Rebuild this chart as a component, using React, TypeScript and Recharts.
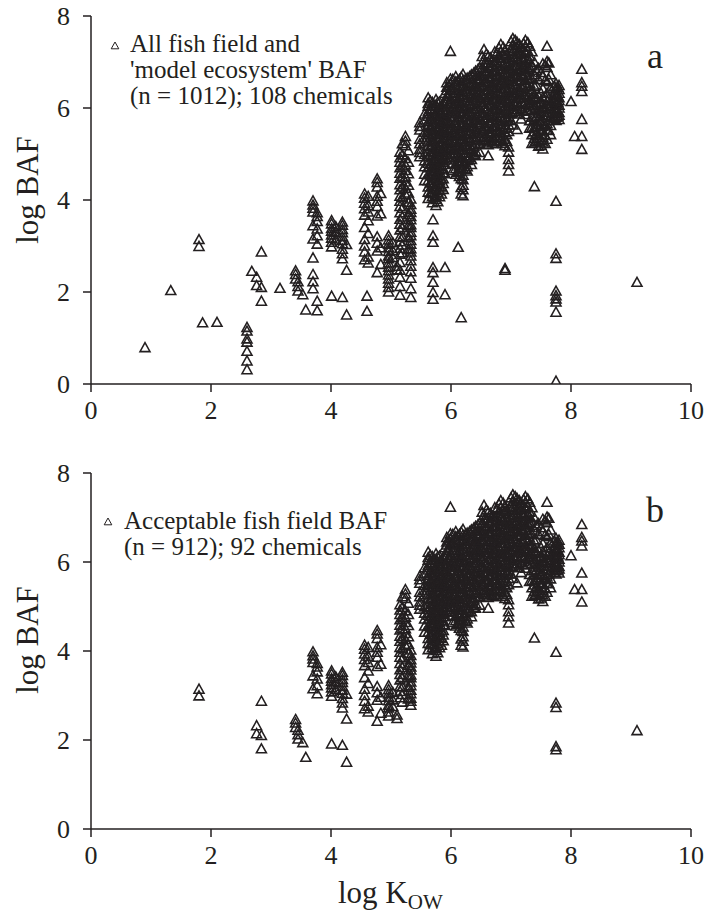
import React from 'react';
import { ScatterChart, Scatter, XAxis, YAxis } from 'recharts';

type Col = [number, number[]];

const INK = '#231f20';
const FONT = '"Liberation Serif", "Times New Roman", serif';

const xTicks = [0, 2, 4, 6, 8, 10];
const yTicks = [0, 2, 4, 6, 8];

const legendA = ['All fish field and', "'model ecosystem' BAF", '(n = 1012); 108 chemicals'];
const legendB = ['Acceptable fish field BAF', '(n = 912); 92 chemicals'];

// points present in both panels (acceptable fish field BAF)
const lowKowShared: Col[] = [
  [1.8, [3.13, 2.98]],
  [2.76, [2.31, 2.13]],
  [2.84, [2.86, 2.09, 1.79]],
  [3.41, [2.45, 2.37, 2.27]],
  [3.45, [2.21, 2.11, 2.01]],
  [3.53, [1.93]],
  [3.58, [1.6]],
];

const midKowShared: Col[] = [
  [3.7, [3.97, 3.88, 3.81, 3.73, 3.43, 3.14]],
  [3.77, [3.71, 3.63, 3.52, 3.36, 3.21, 3.03]],
  [4.01, [3.54, 3.47, 3.37, 3.31, 3.23, 3.16, 3.07, 2.97, 1.9]],
  [4.08, [3.41, 3.29, 3.12]],
  [4.19, [3.51, 3.44, 3.35, 3.28, 3.19, 3.11, 3.04, 2.92, 2.82, 2.71, 1.87]],
  [4.26, [3.02, 2.46, 1.49]],
  [4.56, [4.12, 4.03, 3.92, 3.8, 3.66, 3.39, 3.13, 2.99, 2.86, 2.69]],
  [4.62, [4.07, 3.87, 3.73, 3.54, 3.26, 2.75, 2.62]],
  [4.77, [4.45, 4.37, 4.27, 4.07, 3.96, 3.85, 3.64, 3.19, 3.05, 2.88, 2.41]],
  [4.83, [4.13, 3.69, 2.95, 2.59]],
  [4.96, [3.21, 3.12, 3.03, 2.95, 2.87, 2.77, 2.71, 2.62, 2.53]],
  [5.03, [3.06, 2.89, 2.74]],
  [5.1, [2.55, 2.47]],
  [5.15, [5.03, 4.91, 4.81, 4.69, 4.57, 4.46, 4.32, 4.21, 4.07, 3.96, 3.85, 3.71, 3.57, 3.46, 3.34, 3.19, 3.08, 2.94]],
  [5.19, [5.21, 4.97, 4.73, 4.49, 4.27, 4.04, 3.81, 3.62, 3.39, 3.18, 3.01, 2.84]],
  [5.24, [5.37, 5.27, 5.17, 4.89, 4.75, 4.63, 4.49, 4.38, 4.24, 4.11]],
  [5.29, [5.06, 4.81, 4.56, 4.31, 4.14, 3.94, 3.67, 3.43, 3.17, 2.91]],
  [5.33, [4.01, 3.89, 3.79, 3.72, 3.63, 3.56, 3.45, 3.39, 3.29, 3.21, 3.11, 3.03, 2.93, 2.86, 2.77]],
  [5.48, [5.67, 5.59, 5.51, 5.31, 5.21, 5.09, 5.02, 4.93]],
  [5.56, [5.86, 5.73, 5.46, 5.35, 5.25, 4.98, 4.84, 4.71, 4.55, 4.41]],
];

const coreShared: Col[] = [
  [5.62, [6.21, 6.09, 6.03, 5.91, 5.81, 5.69, 5.61, 5.49, 5.41, 5.27, 5.17, 5.04, 4.93, 4.79, 4.69, 4.54, 4.41, 4.27, 4.16, 4.02]],
  [5.69, [6.11, 5.97, 5.87, 5.73, 5.63, 5.5, 5.41, 5.27, 5.18, 5.05, 4.96, 4.83, 4.73, 4.6, 4.51, 4.37, 4.28, 4.15, 4.06, 3.93]],
  [5.75, [6.17, 6.05, 5.91, 5.81, 5.68, 5.58, 5.44, 5.35, 5.21, 5.12, 4.99, 4.9, 4.77, 4.67, 4.54, 4.45, 4.32, 4.22, 4.09, 4.0, 3.87]],
  [5.81, [6.12, 6.01, 5.87, 5.77, 5.63, 5.54, 5.41, 5.31, 5.18, 5.09, 4.96, 4.87, 4.73, 4.64, 4.51, 4.41, 4.28, 4.19, 4.06]],
  [5.87, [6.07, 5.96, 5.82, 5.72, 5.59, 5.49, 5.35, 5.26, 5.12, 5.03, 4.9, 4.81, 4.67, 4.58, 4.45, 4.35, 4.22]],
  [5.93, [6.54, 6.44, 6.37, 6.24, 6.14, 6.01, 5.91, 5.77, 5.67, 5.54, 5.44, 5.3, 5.21, 5.07, 4.97, 4.86]],
  [5.99, [7.22, 6.62, 6.51, 6.4, 6.31, 6.17, 6.06, 5.92, 5.81, 5.65, 5.53, 5.38, 5.26, 5.11, 4.99, 4.88]],
  [6.08, [6.67, 6.56, 6.43, 6.32, 6.19, 6.09, 5.95, 5.86, 5.72, 5.61, 5.48, 5.38, 5.24, 5.15, 5.01, 4.91, 4.77, 4.67, 4.55]],
  [6.14, [6.61, 6.47, 6.37, 6.24, 6.14, 6.0, 5.91, 5.77, 5.67, 5.54, 5.44, 5.3, 5.2, 5.07, 4.97, 4.83, 4.73, 4.61, 4.5]],
  [6.2, [6.72, 6.59, 6.45, 6.35, 6.21, 6.11, 5.97, 5.87, 5.73, 5.63, 5.49, 5.39, 5.25, 5.15, 5.01, 4.91, 4.77, 4.67, 4.53, 4.43, 4.31, 4.21, 4.08]],
  [6.27, [6.64, 6.53, 6.39, 6.29, 6.15, 6.05, 5.91, 5.81, 5.67, 5.57, 5.43, 5.33, 5.19, 5.09, 4.95, 4.85, 4.71, 4.62]],
  [6.34, [6.71, 6.55, 6.45, 6.31, 6.21, 6.07, 5.97, 5.83, 5.73, 5.59, 5.49, 5.35, 5.25, 5.11, 5.01, 4.87, 4.76]],
  [6.41, [6.79, 6.63, 6.49, 6.39, 6.25, 6.15, 6.01, 5.91, 5.77, 5.67, 5.53, 5.43, 5.29, 5.19, 5.05, 4.95]],
  [6.48, [6.86, 6.69, 6.59, 6.45, 6.35, 6.21, 6.11, 5.97, 5.87, 5.73, 5.63, 5.36, 5.21, 5.02]],
  [6.55, [7.26, 7.04, 6.93, 6.79, 6.69, 6.55, 6.45, 6.31, 6.21, 6.07, 5.97, 5.83, 5.73, 5.59, 5.49, 5.35, 5.25]],
  [6.62, [7.11, 6.97, 6.87, 6.73, 6.63, 6.49, 6.39, 6.25, 6.15, 6.01, 5.91, 5.77, 5.67, 5.53, 5.43, 5.29, 5.19, 4.95]],
  [6.69, [7.02, 6.91, 6.77, 6.67, 6.53, 6.43, 6.29, 6.19, 6.05, 5.95, 5.81, 5.71, 5.57, 5.47, 5.33, 5.23]],
  [6.76, [7.16, 7.02, 6.92, 6.78, 6.68, 6.54, 6.44, 6.3, 6.2, 6.06, 5.96, 5.82, 5.72, 5.58, 5.48, 5.34, 5.21]],
  [6.83, [7.37, 7.21, 7.07, 6.97, 6.83, 6.73, 6.59, 6.49, 6.35, 6.25, 6.11, 6.01, 5.87, 5.77, 5.63, 5.53, 5.39, 5.29]],
  [6.9, [7.25, 7.13, 6.99, 6.89, 6.75, 6.65, 6.51, 6.41, 6.27, 6.17, 6.03, 5.93, 5.79, 5.69, 5.55, 5.45, 5.31, 5.17]],
  [6.96, [7.05, 6.92, 6.82, 6.68, 6.58, 6.44, 6.34, 6.2, 6.1, 5.96, 5.86, 5.72, 5.62, 5.48, 5.14, 5.03, 4.87, 4.76, 4.62]],
  [7.03, [7.5, 7.35, 7.23, 7.09, 6.99, 6.85, 6.75, 6.61, 6.51, 6.37, 6.27, 6.13, 6.03, 5.89, 5.62]],
  [7.1, [7.42, 7.29, 7.15, 7.05, 6.91, 6.81, 6.67, 6.57, 6.43, 6.33, 6.19, 6.09, 5.95, 5.52]],
  [7.17, [7.31, 7.17, 7.07, 6.93, 6.83, 6.69, 6.59, 6.45, 6.35, 6.21, 6.11, 5.97, 5.75]],
  [7.24, [7.46, 7.33, 7.21, 7.07, 6.97, 6.83, 6.73, 6.59, 6.49, 6.35, 6.25, 6.11, 6.01, 5.85]],
  [7.31, [7.33, 7.11, 7.01, 6.87, 6.77, 6.63, 6.53, 6.39, 6.29, 6.15, 6.05, 5.71, 5.55]],
];

// second, offset set of columns filling the dense core
const coreFillShared: Col[] = [
  [5.655, [6.14, 5.96, 5.76, 5.56, 5.35, 5.15, 4.97, 4.76, 4.57, 4.36, 4.13]],
  [5.72, [6.04, 5.83, 5.67, 5.44, 5.25, 5.02, 4.87, 4.63, 4.47, 4.23, 4.04]],
  [5.78, [6.11, 5.92, 5.73, 5.51, 5.34, 5.12, 4.95, 4.71, 4.56, 4.34, 4.15, 3.95]],
  [5.84, [6.02, 5.86, 5.64, 5.46, 5.25, 5.06, 4.84, 4.67, 4.45, 4.27, 4.12]],
  [5.9, [6.31, 6.09, 5.91, 5.7, 5.51, 5.31, 5.13, 4.92, 4.76, 4.56]],
  [5.96, [6.47, 6.28, 6.07, 5.87, 5.67, 5.48, 5.26, 5.08, 4.92]],
  [6.03, [6.61, 6.39, 6.21, 5.99, 5.79, 5.57, 5.41, 5.17, 4.99, 4.79, 4.63]],
  [6.11, [6.57, 6.39, 6.16, 5.99, 5.78, 5.59, 5.38, 5.19, 4.98, 4.81, 4.59]],
  [6.17, [6.66, 6.44, 6.27, 6.05, 5.86, 5.65, 5.47, 5.25, 5.07, 4.85, 4.67, 4.45, 4.26, 4.12]],
  [6.24, [6.61, 6.4, 6.21, 6.0, 5.81, 5.6, 5.42, 5.2, 5.01, 4.8, 4.66]],
  [6.31, [6.67, 6.49, 6.27, 6.09, 5.87, 5.69, 5.47, 5.29, 5.07, 4.91]],
  [6.38, [6.75, 6.54, 6.35, 6.14, 5.96, 5.74, 5.56, 5.34, 5.16, 4.97]],
  [6.45, [6.83, 6.61, 6.43, 6.21, 6.03, 5.81, 5.63, 5.44, 5.28]],
  [6.52, [7.11, 6.87, 6.68, 6.47, 6.29, 6.07, 5.89, 5.67, 5.49, 5.31]],
  [6.59, [7.16, 6.96, 6.74, 6.57, 6.35, 6.17, 5.95, 5.77, 5.55, 5.37, 5.2]],
  [6.66, [7.08, 6.87, 6.65, 6.47, 6.25, 6.07, 5.85, 5.67, 5.45, 5.27]],
  [6.73, [7.21, 6.99, 6.81, 6.59, 6.41, 6.19, 6.01, 5.79, 5.61, 5.39, 5.26]],
  [6.8, [7.29, 7.09, 6.91, 6.69, 6.51, 6.29, 6.11, 5.89, 5.71, 5.49, 5.33]],
  [6.87, [7.31, 7.15, 6.95, 6.73, 6.55, 6.33, 6.15, 5.93, 5.75, 5.53, 5.36, 5.22]],
  [6.93, [7.15, 6.97, 6.75, 6.57, 6.35, 6.17, 5.95, 5.77, 5.55, 5.41, 5.26]],
  [7.0, [7.43, 7.23, 7.05, 6.83, 6.65, 6.43, 6.25, 6.03, 5.87, 5.72]],
  [7.07, [7.46, 7.29, 7.11, 6.89, 6.71, 6.49, 6.31, 6.09, 5.92]],
  [7.14, [7.37, 7.19, 7.01, 6.79, 6.61, 6.39, 6.21, 6.01, 5.86]],
  [7.21, [7.39, 7.25, 7.03, 6.85, 6.67, 6.45, 6.27, 6.07, 5.92]],
  [7.28, [7.41, 7.23, 7.04, 6.86, 6.64, 6.46, 6.24, 6.09, 5.94]],
];

const highKowShared: Col[] = [
  [7.35, [7.21, 6.91, 6.61, 6.35, 6.17, 5.95, 5.79, 5.57, 5.41, 5.22]],
  [7.39, [6.98, 6.71, 6.46, 6.29, 6.19, 6.05, 5.95, 5.81, 5.71, 5.57, 5.47, 5.33, 5.23, 4.28]],
  [7.42, [6.81, 6.49, 6.21, 5.99, 5.81, 5.59, 5.43, 5.26]],
  [7.46, [6.85, 6.61, 6.24, 6.11, 6.01, 5.87, 5.77, 5.63, 5.53, 5.39, 5.29, 5.16]],
  [7.5, [6.76, 6.31, 6.09, 5.91, 5.69, 5.51, 5.29, 5.18]],
  [7.53, [6.95, 6.67, 6.41, 6.21, 6.07, 5.97, 5.83, 5.73, 5.59, 5.49, 5.35, 5.25, 5.1]],
  [7.57, [6.91, 6.59, 6.23, 6.01, 5.83, 5.61, 5.39, 5.22]],
  [7.6, [7.33, 7.0, 6.87, 6.56, 6.31, 6.14, 6.03, 5.89, 5.79, 5.65, 5.51, 5.31]],
  [7.63, [6.97, 6.61, 6.19, 5.97, 5.71, 5.5]],
  [7.66, [6.71, 6.41, 6.09, 5.95, 5.81, 5.61, 5.41]],
  [7.72, [6.46, 6.29, 6.17, 5.99, 5.87, 5.76]],
  [7.75, [6.52, 6.43, 6.36, 6.27, 6.21, 6.11, 6.05, 5.95, 5.89, 5.79, 5.72, 3.96, 2.82, 2.72, 1.84, 1.77]],
  [7.78, [6.44, 6.25, 6.11, 5.93, 5.81]],
  [7.8, [6.48, 6.39, 6.31, 6.21, 6.15, 6.05, 5.99, 5.89, 5.83, 5.74]],
  [8.0, [6.13]],
  [8.06, [5.37]],
  [8.18, [6.83, 6.54, 6.46, 6.35, 5.74, 5.37, 5.09]],
  [9.1, [2.2]],
];

// points only in panel a (field + 'model ecosystem' data)
const modelEcosystemOnly: Col[] = [
  [0.9, [0.78]],
  [1.33, [2.02]],
  [1.86, [1.32]],
  [2.1, [1.33]],
  [2.6, [1.22, 1.14, 0.97, 0.9, 0.7, 0.49, 0.3]],
  [2.68, [2.44]],
  [3.15, [2.07]],
  [3.7, [2.73, 2.37, 2.21, 2.06]],
  [3.77, [1.79, 1.58]],
  [4.6, [1.9, 1.57]],
  [4.96, [2.45, 2.36, 2.27, 2.18, 2.09, 1.99]],
  [5.15, [2.81, 2.63, 2.46, 2.31, 2.11, 1.92]],
  [5.33, [2.67, 2.55, 2.43, 2.29, 2.06, 1.87]],
  [5.7, [3.56, 3.21, 3.07, 2.52, 2.41, 2.2, 1.98, 1.83]],
  [5.9, [2.52, 1.93]],
  [6.12, [2.96]],
  [6.17, [1.43]],
  [6.9, [2.5, 2.46]],
  [7.75, [2.01, 1.91, 1.55, 0.05]],
];

const toPoints = (cols: Col[]) => cols.flatMap(([x, ys]) => ys.map((y) => ({ x, y })));

const sharedPoints = toPoints([...lowKowShared, ...midKowShared, ...coreShared, ...coreFillShared, ...highKowShared]);
const panelAPoints = [...sharedPoints, ...toPoints(modelEcosystemOnly)];
const panelBPoints = sharedPoints;

const Tri = (props: any) => {
  const { cx, cy } = props;
  if (cx == null || cy == null) return null;
  return (
    <path
      d={`M${cx},${cy - 5.5}L${cx + 5},${cy + 3.5}L${cx - 5},${cy + 3.5}Z`}
      fill="none"
      stroke={INK}
      strokeWidth={1.55}
    />
  );
};

const tickStyle = { fill: INK, fontSize: 26, fontFamily: FONT };

function Panel(props: { data: { x: number; y: number }[]; height: number; xAxisHeight: number; yTitleY: number; showXTitle: boolean }) {
  const { data, height, xAxisHeight, yTitleY, showXTitle } = props;
  return (
    <ScatterChart width={706} height={height} margin={{ top: 16, right: 15, bottom: 0, left: 0 }}>
      <XAxis
        type="number"
        dataKey="x"
        domain={[0, 10]}
        ticks={xTicks}
        interval={0}
        height={xAxisHeight}
        tickSize={8}
        tickMargin={9}
        tick={tickStyle}
        axisLine={{ stroke: INK, strokeWidth: 1.5 }}
        tickLine={{ stroke: INK, strokeWidth: 1.5 }}
        allowDataOverflow
        label={
          showXTitle
            ? () => (
                <text x={338} y={446} fill={INK} fontFamily={FONT} fontSize={31}>
                  <tspan>log K</tspan>
                  <tspan fontSize={21} dy={6}>OW</tspan>
                </text>
              )
            : undefined
        }
      />
      <YAxis
        type="number"
        dataKey="y"
        domain={[0, 8]}
        ticks={yTicks}
        interval={0}
        width={91}
        tickSize={8}
        tickMargin={13}
        tick={tickStyle}
        axisLine={{ stroke: INK, strokeWidth: 1.5 }}
        tickLine={{ stroke: INK, strokeWidth: 1.5 }}
        allowDataOverflow
        label={() => (
          <text
            x={38}
            y={yTitleY}
            transform={`rotate(-90, 38, ${yTitleY})`}
            textAnchor="middle"
            fill={INK}
            fontFamily={FONT}
            fontSize={31}
          >
            log BAF
          </text>
        )}
      />
      <Scatter data={data} dataKey="y" shape={Tri} isAnimationActive={false} />
    </ScatterChart>
  );
}

const LegendTri = ({ x, y }: { x: number; y: number }) => (
  <path d={`M${x},${y - 4}L${x + 3.8},${y + 2.8}L${x - 3.8},${y + 2.8}Z`} fill="none" stroke={INK} strokeWidth={1} />
);

export default function App() {
  return (
    <div style={{ position: 'absolute', left: 0, top: 0, width: 706, height: 915, background: '#fff' }}>
      <div style={{ position: 'absolute', left: 0, top: 0 }}>
        <Panel data={panelAPoints} height={440} xAxisHeight={56} yTitleY={190} showXTitle={false} />
      </div>
      <div style={{ position: 'absolute', left: 0, top: 457 }}>
        <Panel data={panelBPoints} height={458} xAxisHeight={86} yTitleY={183} showXTitle={true} />
      </div>
      <svg
        width={706}
        height={915}
        style={{ position: 'absolute', left: 0, top: 0, pointerEvents: 'none' }}
      >
        <LegendTri x={115} y={46} />
        {legendA.map((t, i) => (
          <text key={t} x={130} y={52 + i * 26} fill={INK} fontFamily={FONT} fontSize={25}>
            {t}
          </text>
        ))}
        <text x={655} y={68} textAnchor="middle" fill={INK} fontFamily={FONT} fontSize={36}>
          a
        </text>
        <LegendTri x={108} y={522} />
        {legendB.map((t, i) => (
          <text key={t} x={124} y={529 + i * 26} fill={INK} fontFamily={FONT} fontSize={25}>
            {t}
          </text>
        ))}
        <text x={655} y={522} textAnchor="middle" fill={INK} fontFamily={FONT} fontSize={36}>
          b
        </text>
      </svg>
    </div>
  );
}
